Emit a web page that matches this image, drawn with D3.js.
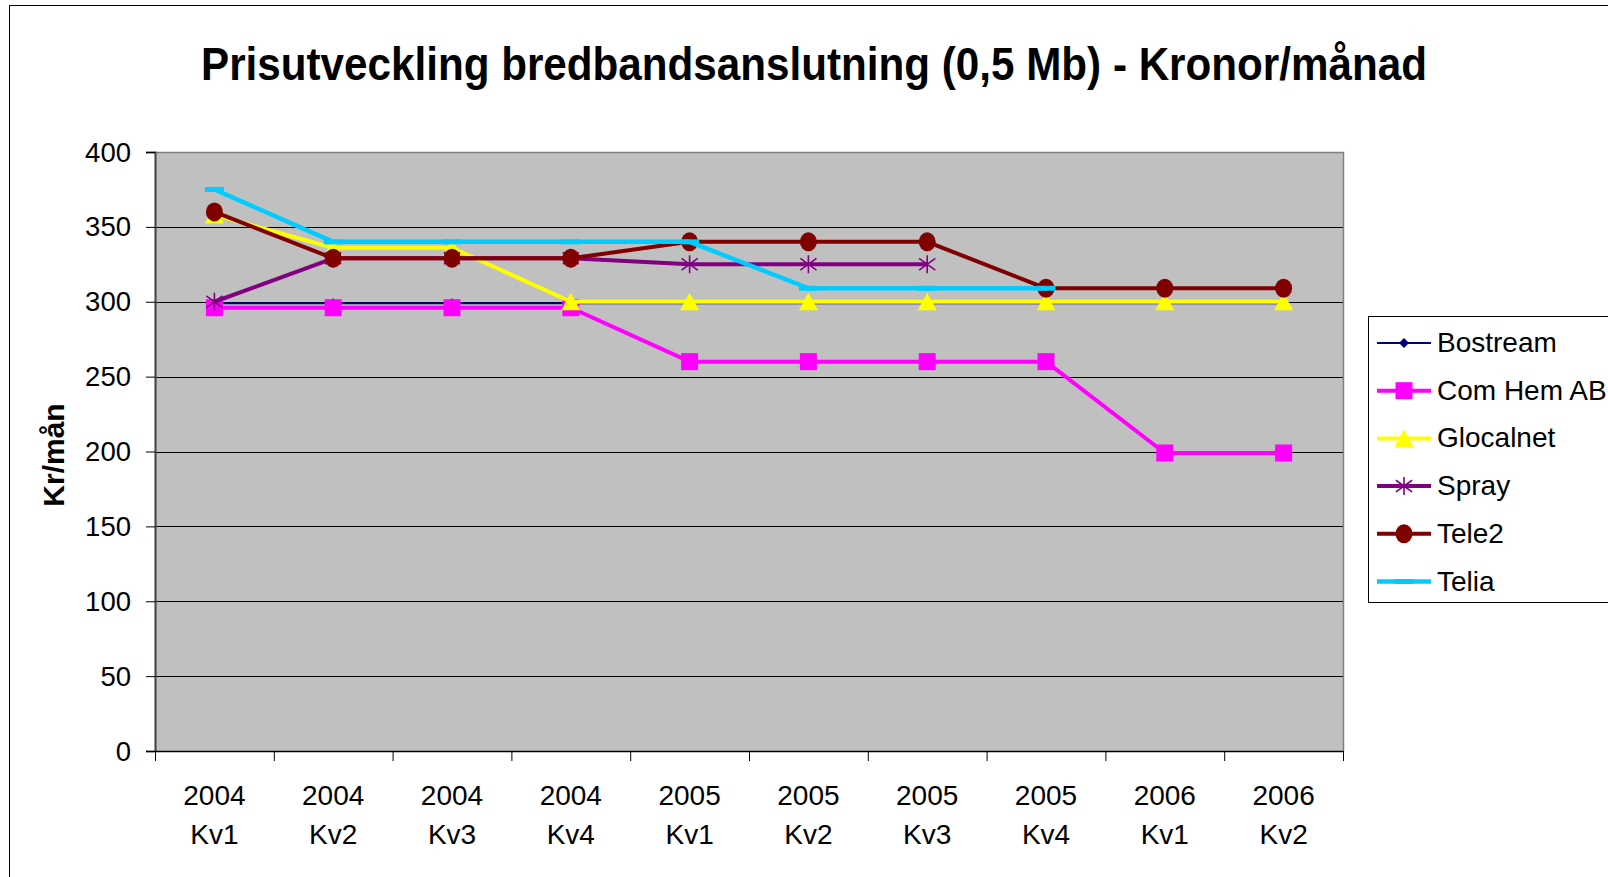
<!DOCTYPE html>
<html><head><meta charset="utf-8">
<script src="https://cdn.jsdelivr.net/npm/d3@7"></script>
<style>
body{margin:0;background:#fff;}
svg{display:block;font-family:"Liberation Sans",Arial,sans-serif;}
</style></head>
<body>
<svg id="c" width="1608" height="877"></svg>
<script>
const years = ["2004","2004","2004","2004","2005","2005","2005","2005","2006","2006"];
const quarters = ["Kv1","Kv2","Kv3","Kv4","Kv1","Kv2","Kv3","Kv4","Kv1","Kv2"];
const categories = years.map((y,i)=>y+" "+quarters[i]);
const yTicks = [0,50,100,150,200,250,300,350,400];
const seriesNames = ["Bostream","Com Hem AB","Glocalnet","Spray","Tele2","Telia"];
const bostream = [299,299,299,299,299,299,299,299,299,299];
const comHem   = [296,296,296,296,260,260,260,260,199,199];
const glocalnet= [358,336,336,300,300,300,300,300,300,300];
const spray    = [300,329,329,329,325,325,325,null,null,null];
const tele2    = [360,329,329,329,340,340,340,309,309,309];
const telia    = [375,340,340,340,340,309,309,309,null,null];
const seriesValues = [bostream,comHem,glocalnet,spray,tele2,telia];
const colors = ["#000080","#FF00FF","#FFFF00","#800080","#800000","#00CCFF"];
const markers = ["diamond","square","triangle","star","circle","dash"];
const lineWidths = [2,4,4,4,4,4.5];

const svg = d3.select("#c");
const L=155,R=1343,T=152,B=751;

// outer border
svg.append("rect").attr("x",9.5).attr("y",5.5).attr("width",1700).attr("height",1000)
  .attr("fill","#fff").attr("stroke","#000").attr("stroke-width",1);

const x = d3.scaleBand().domain(categories).range([L,R]).padding(0);
const xi = d3.scaleLinear().domain([0,categories.length]).range([L,R]);
const y = d3.scaleLinear().domain([0,400]).range([B,T]);
const cx = c => x(c)+x.bandwidth()/2;

// plot background
svg.append("rect").attr("x",L).attr("y",T).attr("width",R-L).attr("height",B-T).attr("fill","#C0C0C0");

// gridlines
svg.append("g").selectAll("line").data(yTicks.filter(d=>d>0)).join("line")
  .attr("x1",L).attr("x2",R).attr("y1",d=>Math.round(y(d))+0.5).attr("y2",d=>Math.round(y(d))+0.5)
  .attr("stroke","#000").attr("stroke-width",1);
// plot border right/top
svg.append("path").attr("d",`M${L},${T+0.5}H${R+0.5}V${B}`).attr("fill","none").attr("stroke","#808080").attr("stroke-width",1.5);

// y axis
const ya = svg.append("g").attr("transform",`translate(${L},0)`)
  .call(d3.axisLeft(y).tickValues(yTicks).tickSize(9).tickPadding(15));
ya.select(".domain").attr("stroke","#404040").attr("stroke-width",2);
ya.selectAll(".tick line").attr("stroke","#000");
ya.selectAll("text").attr("font-size",27.5).attr("fill","#000").attr("font-family","Liberation Sans, Arial").attr("dy","0.33em");

// x axis
const xa = svg.append("g").attr("transform",`translate(0,${B})`)
  .call(d3.axisBottom(xi).tickValues(d3.range(categories.length+1)).tickFormat("").tickSize(10).tickSizeOuter(0));
xa.select(".domain").attr("stroke","#000").attr("stroke-width",1.5);
xa.selectAll(".tick line").attr("stroke","#000");
const xl = svg.append("g").selectAll("text").data(categories).join("text")
  .attr("x",d=>cx(d)).attr("text-anchor","middle").attr("font-size",28).attr("fill","#000");
xl.append("tspan").attr("x",d=>cx(d)).attr("y",B+54).text((d,i)=>years[i]);
xl.append("tspan").attr("x",d=>cx(d)).attr("y",B+93).text((d,i)=>quarters[i]);

// title
svg.append("text").attr("transform","translate(814,80) scale(1,1.08)").attr("text-anchor","middle")
  .attr("font-size",42.2).attr("font-weight","bold").attr("fill","#000")
  .text("Prisutveckling bredbandsanslutning (0,5 Mb) - Kronor/månad");

// y title
svg.append("text").attr("transform","translate(64,455) rotate(-90)").attr("text-anchor","middle")
  .attr("font-size",30).attr("font-weight","bold").attr("fill","#000").text("Kr/mån");

function drawMarker(g,type,color,px,py){
  if(type==="diamond"){
    g.append("path").attr("d",`M${px},${py-5}L${px+5},${py}L${px},${py+5}L${px-5},${py}Z`).attr("fill",color);
  } else if(type==="square"){
    g.append("rect").attr("x",px-8.5).attr("y",py-8.5).attr("width",17).attr("height",17).attr("fill",color);
  } else if(type==="triangle"){
    g.append("path").attr("d",`M${px},${py-9}L${px+9.5},${py+8.5}L${px-9.5},${py+8.5}Z`).attr("fill",color);
  } else if(type==="star"){
    const s=9;
    g.append("path").attr("d",`M${px},${py-s}V${py+s}M${px-s*0.9},${py-s*0.65}L${px+s*0.9},${py+s*0.65}M${px-s*0.9},${py+s*0.65}L${px+s*0.9},${py-s*0.65}`)
      .attr("stroke",color).attr("stroke-width",1.6).attr("fill","none");
  } else if(type==="circle"){
    g.append("ellipse").attr("cx",px).attr("cy",py).attr("rx",8.5).attr("ry",9.5).attr("fill",color);
  } else if(type==="dash"){
    g.append("rect").attr("x",px-9.5).attr("y",py-2.5).attr("width",19).attr("height",5).attr("fill",color);
  }
}

// series
const line = d3.line().defined(d=>d.v!=null).x(d=>cx(d.c)).y(d=>y(d.v));
seriesValues.forEach((vals,si)=>{
  const g = svg.append("g");
  const pts = vals.map((v,i)=>({c:categories[i],v}));
  g.append("path").datum(pts).attr("d",line).attr("fill","none")
    .attr("stroke",colors[si]).attr("stroke-width",lineWidths[si]).attr("stroke-linejoin","round");
  pts.filter(p=>p.v!=null).forEach(p=>drawMarker(g,markers[si],colors[si],cx(p.c),y(p.v)));
});

// legend
const lg = svg.append("g");
lg.append("rect").attr("x",1368.5).attr("y",316.5).attr("width",400).attr("height",286)
  .attr("fill","#fff").attr("stroke","#000").attr("stroke-width",1);
seriesNames.forEach((n,i)=>{
  const yy = 343 + i*47.7;
  lg.append("line").attr("x1",1377).attr("x2",1431).attr("y1",yy).attr("y2",yy)
    .attr("stroke",colors[i]).attr("stroke-width",lineWidths[i]);
  drawMarker(lg,markers[i],colors[i],1404,yy);
  lg.append("text").attr("x",1437).attr("y",yy+9).attr("font-size",28).attr("fill","#000").text(n);
});
</script>
</body></html>
